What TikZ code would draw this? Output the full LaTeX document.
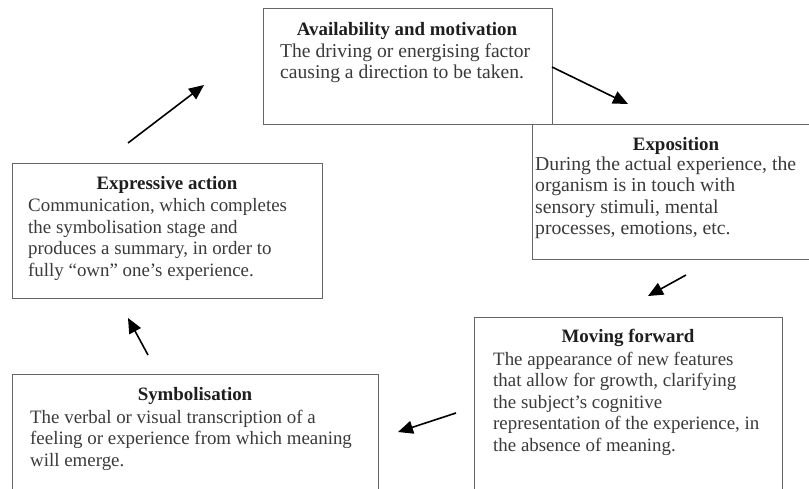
\documentclass[tikz,border=0pt]{standalone}
\usepackage{fontspec}
\setmainfont{Liberation Serif}
\usetikzlibrary{arrows.meta}
\definecolor{boxline}{HTML}{666666}
\definecolor{bodytext}{HTML}{3A3A3A}
\definecolor{titletext}{HTML}{1E1E1E}
\tikzset{
  stagebox/.style={draw=boxline, line width=1.4pt, fill=white, anchor=north west, inner sep=0pt},
  stagetitle/.style={anchor=base, inner sep=0pt, text=titletext, font=\fontsize{18.9}{21.5}\selectfont\bfseries},
  stagebody/.style={anchor=north west, inner sep=0pt, align=left, text=bodytext, font=\fontsize{#1}{21.5}\selectfont},
  stagebody/.default=18.9,
  flow/.style={line width=1.6pt, -{Triangle[length=15pt,width=13pt]}}
}
\begin{document}
\begin{tikzpicture}[x=1pt,y=-1pt]
\useasboundingbox (0,0) rectangle (809,488);
\clip (0,0) rectangle (809,488);
% boxes
\node[stagebox, minimum width=289pt, minimum height=116pt] (av) at (263,8) {};
\node[stagebox, minimum width=300pt, minimum height=135pt] (ex) at (532,124) {};
\node[stagebox, minimum width=308pt, minimum height=190pt] (mf) at (474,317) {};
\node[stagebox, minimum width=366pt, minimum height=130pt] (sy) at (12,374) {};
\node[stagebox, minimum width=310pt, minimum height=135pt] (ea) at (12,163) {};
% titles
\node[stagetitle] (avt) at (407,35) {Availability and motivation};
\node[stagetitle] (ext) at (676,150) {Exposition};
\node[stagetitle] (mft) at (628,342) {Moving forward};
\node[stagetitle] (syt) at (195,400) {Symbolisation};
\node[stagetitle] (eat) at (167,189) {Expressive action};
% bodies (north = first baseline - 15.05)
\node[stagebody=19.6] (avb) at (280,42) {\strut The driving or energising factor\\causing a direction to be taken.};
\node[stagebody=19.7] (exb) at (535,155) {\strut During the actual experience, the\\organism is in touch with\\sensory stimuli, mental\\processes, emotions, etc.};
\node[stagebody] (mfb) at (493,350) {\strut The appearance of new features\\that allow for growth, clarifying\\the subject’s cognitive\\representation of the experience, in\\the absence of meaning.};
\node[stagebody] (syb) at (30,408) {\strut The verbal or visual transcription of a\\feeling or experience from which meaning\\will emerge.};
\node[stagebody] (eab) at (28,196.7) {\strut Communication, which completes\\the symbolisation stage and\\produces a summary, in order to\\fully “own” one’s experience.};
% arrow end points
\coordinate (a1s) at (128,143); \coordinate (a1e) at (204,85);
\coordinate (a2s) at (552,67);  \coordinate (a2e) at (628,104);
\coordinate (a3s) at (686,275); \coordinate (a3e) at (648,296);
\coordinate (a4s) at (456,413); \coordinate (a4e) at (398,432);
\coordinate (a5s) at (148,355); \coordinate (a5e) at (128,318);
\draw[flow] (a1s) -- (a1e);
\draw[flow] (a2s) -- (a2e);
\draw[flow] (a3s) -- (a3e);
\draw[flow] (a4s) -- (a4e);
\draw[flow] (a5s) -- (a5e);
\end{tikzpicture}
\end{document}
